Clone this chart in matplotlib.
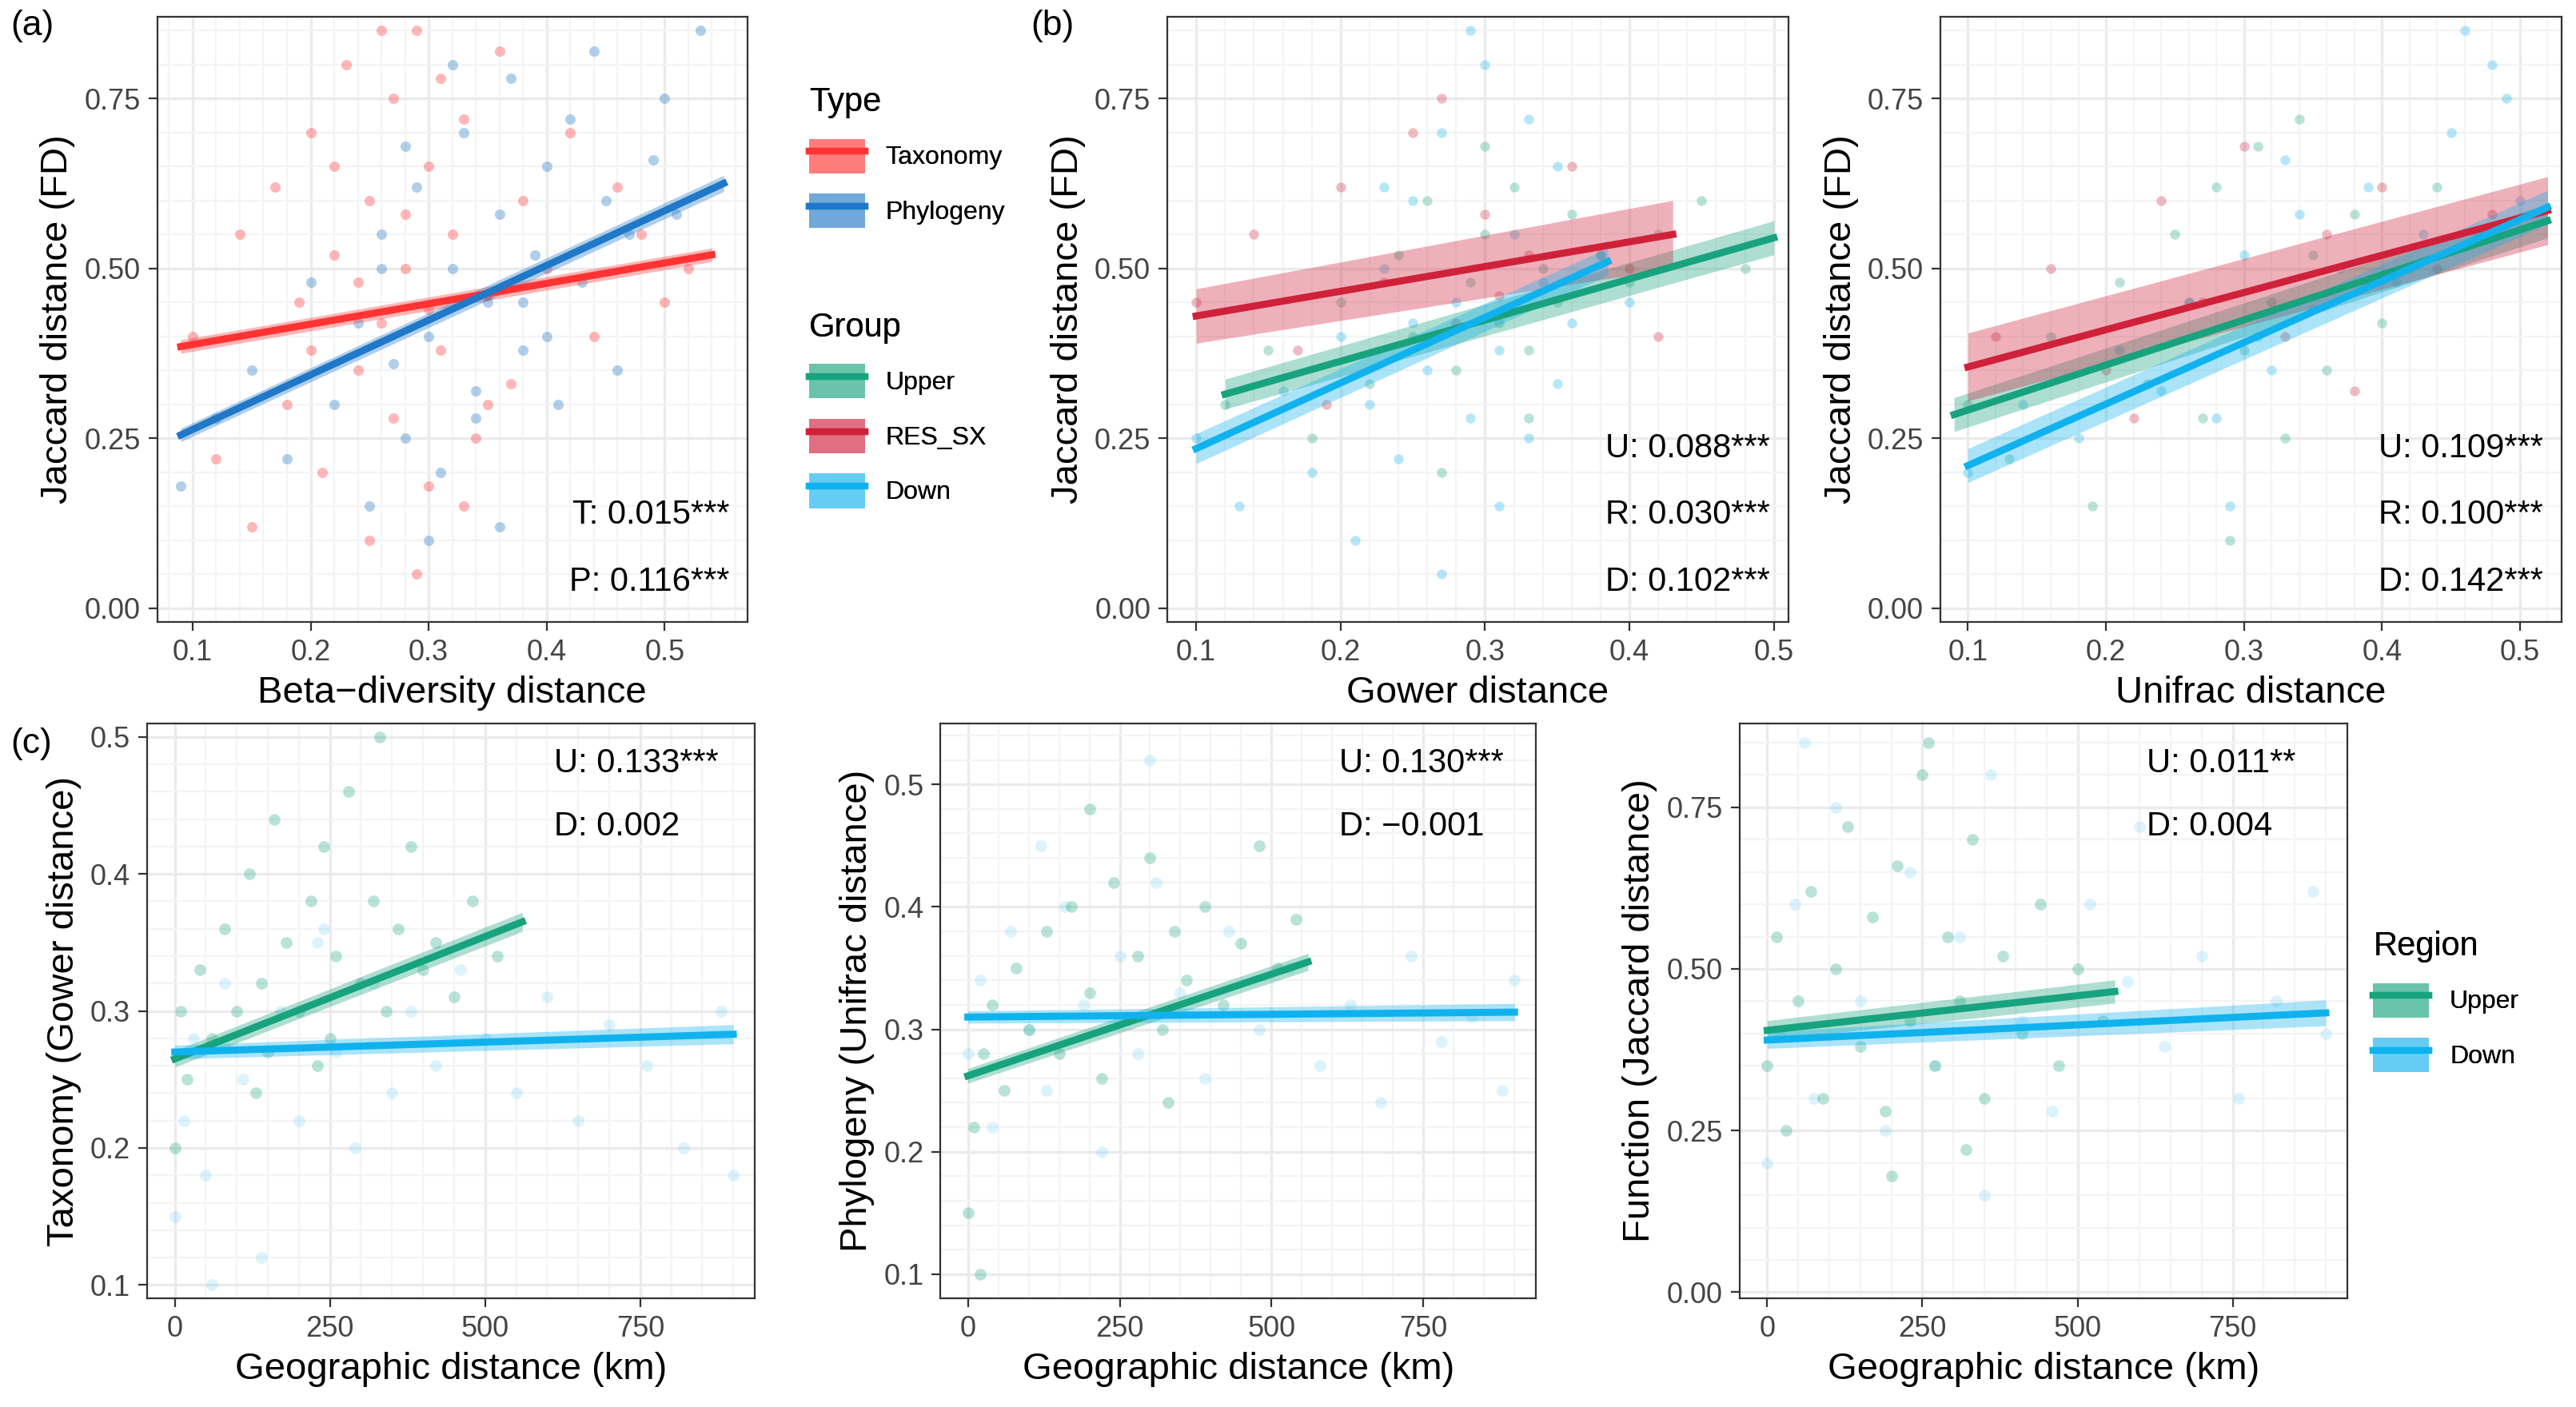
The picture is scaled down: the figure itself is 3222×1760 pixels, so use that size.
import numpy as np
import matplotlib.pyplot as plt
from matplotlib.lines import Line2D
from matplotlib.patches import Patch

plt.rcParams['font.family'] = ['Liberation Sans', 'DejaVu Sans']

C_TAX = '#FF3333'
C_PHY = '#1F78C8'
C_UP = '#17A37E'
C_RES = '#D0213B'
C_DOWN = '#10B2EE'

# ---- scatter points (representative subset) ----
a_tax_x = [0.10, 0.12, 0.14, 0.15, 0.17, 0.18, 0.19, 0.20, 0.21, 0.22, 0.23, 0.24, 0.25, 0.25, 0.26, 0.27, 0.27, 0.28,
           0.29, 0.30, 0.30, 0.31, 0.32, 0.33, 0.34, 0.35, 0.36, 0.37, 0.38, 0.40, 0.42, 0.44, 0.46, 0.48, 0.50, 0.52,
           0.22, 0.26, 0.29, 0.33, 0.24, 0.28, 0.31, 0.35, 0.20, 0.30]
a_tax_y = [0.40, 0.22, 0.55, 0.12, 0.62, 0.30, 0.45, 0.70, 0.20, 0.52, 0.80, 0.35, 0.60, 0.10, 0.42, 0.75, 0.28, 0.50,
           0.85, 0.65, 0.18, 0.38, 0.55, 0.72, 0.25, 0.46, 0.82, 0.33, 0.60, 0.50, 0.70, 0.40, 0.62, 0.55, 0.45, 0.50,
           0.65, 0.85, 0.05, 0.15, 0.48, 0.58, 0.78, 0.30, 0.38, 0.44]
a_phy_x = [0.09, 0.12, 0.15, 0.18, 0.20, 0.22, 0.24, 0.25, 0.26, 0.27, 0.28, 0.29, 0.30, 0.31, 0.32, 0.33, 0.34, 0.35,
           0.36, 0.37, 0.38, 0.39, 0.40, 0.41, 0.42, 0.43, 0.44, 0.45, 0.47, 0.49, 0.51, 0.53, 0.30, 0.34, 0.38, 0.28,
           0.32, 0.36, 0.40, 0.26, 0.46, 0.50]
a_phy_y = [0.18, 0.28, 0.35, 0.22, 0.48, 0.30, 0.42, 0.15, 0.55, 0.36, 0.25, 0.62, 0.40, 0.20, 0.50, 0.70, 0.32, 0.45,
           0.58, 0.78, 0.38, 0.52, 0.65, 0.30, 0.72, 0.48, 0.82, 0.60, 0.55, 0.66, 0.58, 0.85, 0.10, 0.28, 0.45, 0.68,
           0.80, 0.12, 0.40, 0.50, 0.35, 0.75]

b1_up_x = [0.12, 0.15, 0.18, 0.20, 0.22, 0.24, 0.25, 0.26, 0.28, 0.29, 0.30, 0.31, 0.32, 0.33, 0.34, 0.35, 0.36, 0.38,
           0.40, 0.42, 0.45, 0.48, 0.27, 0.30, 0.33]
b1_up_y = [0.30, 0.38, 0.25, 0.45, 0.33, 0.52, 0.40, 0.60, 0.35, 0.48, 0.55, 0.42, 0.62, 0.38, 0.50, 0.45, 0.58, 0.52,
           0.48, 0.55, 0.60, 0.50, 0.20, 0.68, 0.28]
b1_res_x = [0.10, 0.14, 0.17, 0.20, 0.23, 0.25, 0.28, 0.30, 0.33, 0.36, 0.40, 0.42, 0.19, 0.27, 0.31]
b1_res_y = [0.45, 0.55, 0.38, 0.62, 0.48, 0.70, 0.42, 0.58, 0.52, 0.65, 0.50, 0.40, 0.30, 0.75, 0.46]
b1_dn_x = [0.10, 0.13, 0.16, 0.18, 0.20, 0.21, 0.22, 0.23, 0.24, 0.25, 0.26, 0.27, 0.28, 0.29, 0.30, 0.31, 0.32, 0.33,
           0.34, 0.35, 0.36, 0.38, 0.40, 0.27, 0.29, 0.31, 0.25, 0.23, 0.33, 0.35]
b1_dn_y = [0.25, 0.15, 0.32, 0.20, 0.40, 0.10, 0.30, 0.50, 0.22, 0.60, 0.35, 0.70, 0.45, 0.28, 0.80, 0.38, 0.55, 0.25,
           0.48, 0.65, 0.42, 0.52, 0.45, 0.05, 0.85, 0.15, 0.42, 0.62, 0.72, 0.33]

b2_up_x = [0.10, 0.13, 0.16, 0.19, 0.21, 0.23, 0.25, 0.27, 0.28, 0.30, 0.31, 0.32, 0.33, 0.35, 0.36, 0.38, 0.40, 0.42,
           0.44, 0.47, 0.29, 0.34, 0.26]
b2_up_y = [0.30, 0.22, 0.40, 0.15, 0.48, 0.33, 0.55, 0.28, 0.62, 0.38, 0.68, 0.45, 0.25, 0.52, 0.35, 0.58, 0.42, 0.50,
           0.62, 0.55, 0.10, 0.72, 0.45]
b2_res_x = [0.12, 0.16, 0.20, 0.24, 0.27, 0.30, 0.33, 0.36, 0.40, 0.44, 0.48, 0.22, 0.38]
b2_res_y = [0.40, 0.50, 0.35, 0.60, 0.45, 0.68, 0.40, 0.55, 0.62, 0.50, 0.58, 0.28, 0.32]
b2_dn_x = [0.10, 0.14, 0.18, 0.21, 0.24, 0.26, 0.28, 0.30, 0.31, 0.32, 0.34, 0.35, 0.37, 0.39, 0.41, 0.43, 0.45, 0.48,
           0.50, 0.29, 0.33, 0.46, 0.49]
b2_dn_y = [0.20, 0.30, 0.25, 0.38, 0.32, 0.45, 0.28, 0.52, 0.40, 0.35, 0.58, 0.44, 0.50, 0.62, 0.48, 0.55, 0.70, 0.80,
           0.60, 0.15, 0.66, 0.85, 0.75]

c1_up_x = [0, 10, 20, 40, 60, 80, 100, 120, 140, 150, 160, 180, 200, 220, 240, 250, 260, 280, 300, 320, 340, 360, 380,
           400, 420, 450, 480, 520, 130, 230, 330]
c1_up_y = [0.20, 0.30, 0.25, 0.33, 0.28, 0.36, 0.30, 0.40, 0.32, 0.27, 0.44, 0.35, 0.30, 0.38, 0.42, 0.28, 0.34, 0.46,
           0.32, 0.38, 0.30, 0.36, 0.42, 0.33, 0.35, 0.31, 0.38, 0.34, 0.24, 0.26, 0.50]
c1_dn_x = [0, 15, 30, 50, 80, 110, 140, 170, 200, 230, 260, 290, 320, 350, 380, 420, 460, 500, 550, 600, 650, 700, 760,
           820, 880, 900, 60, 240]
c1_dn_y = [0.15, 0.22, 0.28, 0.18, 0.32, 0.25, 0.12, 0.30, 0.22, 0.35, 0.27, 0.20, 0.32, 0.24, 0.30, 0.26, 0.33, 0.28,
           0.24, 0.31, 0.22, 0.29, 0.26, 0.20, 0.30, 0.18, 0.10, 0.36]

c2_up_x = [0, 10, 25, 40, 60, 80, 100, 130, 150, 170, 200, 220, 240, 260, 280, 300, 320, 340, 360, 390, 420, 450, 480,
           510, 540, 20, 200, 330]
c2_up_y = [0.15, 0.22, 0.28, 0.32, 0.25, 0.35, 0.30, 0.38, 0.28, 0.40, 0.33, 0.26, 0.42, 0.31, 0.36, 0.44, 0.30, 0.38,
           0.34, 0.40, 0.32, 0.37, 0.45, 0.35, 0.39, 0.10, 0.48, 0.24]
c2_dn_x = [0, 20, 40, 70, 100, 130, 160, 190, 220, 250, 280, 310, 350, 390, 430, 480, 530, 580, 630, 680, 730, 780, 830,
           880, 900, 120, 300]
c2_dn_y = [0.28, 0.34, 0.22, 0.38, 0.30, 0.25, 0.40, 0.32, 0.20, 0.36, 0.28, 0.42, 0.33, 0.26, 0.38, 0.30, 0.35, 0.27,
           0.32, 0.24, 0.36, 0.29, 0.31, 0.25, 0.34, 0.45, 0.52]

c3_up_x = [0, 15, 30, 50, 70, 90, 110, 130, 150, 170, 190, 210, 230, 250, 270, 290, 310, 330, 350, 380, 410, 440, 470,
           500, 540, 200, 260, 320]
c3_up_y = [0.35, 0.55, 0.25, 0.45, 0.62, 0.30, 0.50, 0.72, 0.38, 0.58, 0.28, 0.66, 0.42, 0.80, 0.35, 0.55, 0.45, 0.70,
           0.30, 0.52, 0.40, 0.60, 0.35, 0.50, 0.42, 0.18, 0.85, 0.22]
c3_dn_x = [0, 20, 45, 75, 110, 150, 190, 230, 270, 310, 360, 410, 460, 520, 580, 640, 700, 760, 820, 880, 900, 60, 350,
           600]
c3_dn_y = [0.20, 0.40, 0.60, 0.30, 0.75, 0.45, 0.25, 0.65, 0.35, 0.55, 0.80, 0.42, 0.28, 0.60, 0.48, 0.38, 0.52, 0.30,
           0.45, 0.62, 0.40, 0.85, 0.15, 0.72]

# ---- fitted lines: x range, y at ends, ribbon half width at ends ----
fits = {
    'a_tax': ([0.09, 0.54], [0.385, 0.52], [0.010, 0.010]),
    'a_phy': ([0.09, 0.55], [0.255, 0.625], [0.010, 0.012]),
    'b1_up': ([0.12, 0.50], [0.315, 0.545], [0.022, 0.025]),
    'b1_res': ([0.10, 0.43], [0.43, 0.55], [0.04, 0.05]),
    'b1_dn': ([0.10, 0.385], [0.235, 0.51], [0.022, 0.02]),
    'b2_up': ([0.09, 0.52], [0.285, 0.57], [0.025, 0.025]),
    'b2_res': ([0.10, 0.52], [0.355, 0.585], [0.05, 0.05]),
    'b2_dn': ([0.10, 0.52], [0.21, 0.59], [0.025, 0.025]),
    'c1_up': ([0, 560], [0.265, 0.365], [0.006, 0.007]),
    'c1_dn': ([0, 900], [0.27, 0.283], [0.005, 0.007]),
    'c2_up': ([0, 560], [0.262, 0.355], [0.006, 0.007]),
    'c2_dn': ([0, 900], [0.31, 0.314], [0.005, 0.007]),
    'c3_up': ([0, 560], [0.405, 0.465], [0.015, 0.018]),
    'c3_dn': ([0, 900], [0.39, 0.432], [0.013, 0.02]),
}


def style(ax):
    ax.set_facecolor('white')
    ax.grid(True, which='major', color='#EBEBEB', lw=1.2)
    ax.minorticks_on()
    ax.grid(True, which='minor', color='#F4F4F4', lw=0.8)
    ax.tick_params(which='minor', length=0)
    ax.tick_params(which='major', length=4, color='#333333', labelsize=13, labelcolor='#444444')
    for s in ax.spines.values():
        s.set_color('#333333')
        s.set_linewidth(0.8)
    ax.set_axisbelow(True)


def fit(ax, key, color):
    xs, ys, ws = fits[key]
    lo = [ys[0] - ws[0], ys[1] - ws[1]]
    hi = [ys[0] + ws[0], ys[1] + ws[1]]
    ax.fill_between(xs, lo, hi, color=color, alpha=0.35, lw=0)
    ax.plot(xs, ys, color=color, lw=3.2)


def stats(ax, lines):
    for i, t in enumerate(lines):
        ax.text(0.97, 0.04 + 0.11 * (len(lines) - 1 - i), t, transform=ax.transAxes, ha='right', va='bottom',
                fontsize=15)


def stats_top(ax, lines):
    for i, t in enumerate(lines):
        ax.text(0.67, 0.93 - 0.11 * i, t, transform=ax.transAxes, ha='left', va='center', fontsize=15)


fig = plt.figure(figsize=(16.115, 8.8), dpi=200)

# (a)
ax = fig.add_axes([0.061, 0.558, 0.229, 0.430])
style(ax)
ax.scatter(a_tax_x, a_tax_y, s=22, color=C_TAX, alpha=0.35, lw=0)
ax.scatter(a_phy_x, a_phy_y, s=22, color=C_PHY, alpha=0.35, lw=0)
fit(ax, 'a_tax', C_TAX)
fit(ax, 'a_phy', C_PHY)
ax.set_xlim(0.07, 0.57)
ax.set_ylim(-0.02, 0.87)
ax.set_xticks([0.1, 0.2, 0.3, 0.4, 0.5])
ax.set_xticklabels(['0.1', '0.2', '0.3', '0.4', '0.5'])
ax.set_yticks([0, 0.25, 0.5, 0.75])
ax.set_yticklabels(['0.00', '0.25', '0.50', '0.75'])
ax.set_xlabel('Beta\u2212diversity distance', fontsize=17)
ax.set_ylabel('Jaccard distance (FD)', fontsize=17)
stats(ax, ['T: 0.015***', 'P: 0.116***'])
fig.text(0.004, 0.975, '(a)', fontsize=16)

# legends for (a)/(b)
def legend_block(x, y, title, labels, colors):
    handles = [(Patch(color=c, alpha=0.4), Line2D([0], [0], color=c, lw=3)) for c in colors]
    leg = fig.legend(handles, labels, title=title, loc='upper left', bbox_to_anchor=(x, y), frameon=False,
                     fontsize=12, title_fontsize=15, handlelength=2.2, handleheight=1.6, labelspacing=0.9,
                     alignment='left')
    from matplotlib.legend_handler import HandlerTuple
    leg.legend_handles  # noqa
    return leg

from matplotlib.legend_handler import HandlerTuple
for (x, y, title, labels, colors) in [
        (0.305, 0.955, 'Type', ['Taxonomy', 'Phylogeny'], [C_TAX, C_PHY]),
        (0.305, 0.795, 'Group', ['Upper', 'RES_SX', 'Down'], [C_UP, C_RES, C_DOWN]),
        (0.912, 0.355, 'Region', ['Upper', 'Down'], [C_UP, C_DOWN])]:
    handles = [(Patch(color=c, alpha=0.4, lw=0), Line2D([0], [0], color=c, lw=3)) for c in colors]
    leg = fig.legend(handles, labels, title=title, loc='upper left', bbox_to_anchor=(x, y), frameon=False,
                     fontsize=11.5, title_fontsize=15, handlelength=2.2, handleheight=1.7, labelspacing=0.8,
                     alignment='left', handler_map={tuple: HandlerTuple(ndivide=1)})
    fig.add_artist(leg)

# (b)
for left, key, xl, lab, txt, px in [
        (0.453, 'b1', 'Gower distance', None, ['U: 0.088***', 'R: 0.030***', 'D: 0.102***'],
         ((b1_up_x, b1_up_y), (b1_res_x, b1_res_y), (b1_dn_x, b1_dn_y))),
        (0.753, 'b2', 'Unifrac distance', None, ['U: 0.109***', 'R: 0.100***', 'D: 0.142***'],
         ((b2_up_x, b2_up_y), (b2_res_x, b2_res_y), (b2_dn_x, b2_dn_y)))]:
    ax = fig.add_axes([left, 0.558, 0.241, 0.430])
    style(ax)
    for (xs, ys), c in zip(px, [C_UP, C_RES, C_DOWN]):
        ax.scatter(xs, ys, s=20, color=c, alpha=0.3, lw=0)
    fit(ax, key + '_up', C_UP)
    fit(ax, key + '_res', C_RES)
    fit(ax, key + '_dn', C_DOWN)
    ax.set_xlim(0.08, 0.51 if key == 'b1' else 0.53)
    ax.set_ylim(-0.02, 0.87)
    ax.set_xticks([0.1, 0.2, 0.3, 0.4, 0.5])
    ax.set_xticklabels(['0.1', '0.2', '0.3', '0.4', '0.5'])
    ax.set_yticks([0, 0.25, 0.5, 0.75])
    ax.set_yticklabels(['0.00', '0.25', '0.50', '0.75'])
    ax.set_xlabel(xl, fontsize=17)
    ax.set_ylabel('Jaccard distance (FD)', fontsize=17)
    stats(ax, txt)
fig.text(0.400, 0.975, '(b)', fontsize=16)

# (c)
panels_c = [
    (0.057, 0.236, 'c1', 'Taxonomy (Gower distance)', ['U: 0.133***', 'D: 0.002'], (0.09, 0.51),
     [0.1, 0.2, 0.3, 0.4, 0.5], ['0.1', '0.2', '0.3', '0.4', '0.5'], (c1_up_x, c1_up_y), (c1_dn_x, c1_dn_y)),
    (0.365, 0.231, 'c2', 'Phylogeny (Unifrac distance)', ['U: 0.130***', 'D: \u22120.001'], (0.08, 0.55),
     [0.1, 0.2, 0.3, 0.4, 0.5], ['0.1', '0.2', '0.3', '0.4', '0.5'], (c2_up_x, c2_up_y), (c2_dn_x, c2_dn_y)),
    (0.675, 0.236, 'c3', 'Function (Jaccard distance)', ['U: 0.011**', 'D: 0.004'], (-0.01, 0.88),
     [0, 0.25, 0.5, 0.75], ['0.00', '0.25', '0.50', '0.75'], (c3_up_x, c3_up_y), (c3_dn_x, c3_dn_y)),
]
for left, w, key, yl, txt, ylim, yt, ytl, up, dn in panels_c:
    ax = fig.add_axes([left, 0.077, w, 0.409])
    style(ax)
    ax.scatter(*dn, s=28, color=C_DOWN, alpha=0.15, lw=0)
    ax.scatter(*up, s=28, color=C_UP, alpha=0.3, lw=0)
    fit(ax, key + '_up', C_UP)
    fit(ax, key + '_dn', C_DOWN)
    ax.set_xlim(-45, 935)
    ax.set_ylim(*ylim)
    ax.set_xticks([0, 250, 500, 750])
    ax.set_yticks(yt)
    ax.set_yticklabels(ytl)
    ax.set_xlabel('Geographic distance (km)', fontsize=17)
    ax.set_ylabel(yl, fontsize=17)
    stats_top(ax, txt)
fig.text(0.004, 0.465, '(c)', fontsize=16)

fig.savefig('out.png', dpi=200)
